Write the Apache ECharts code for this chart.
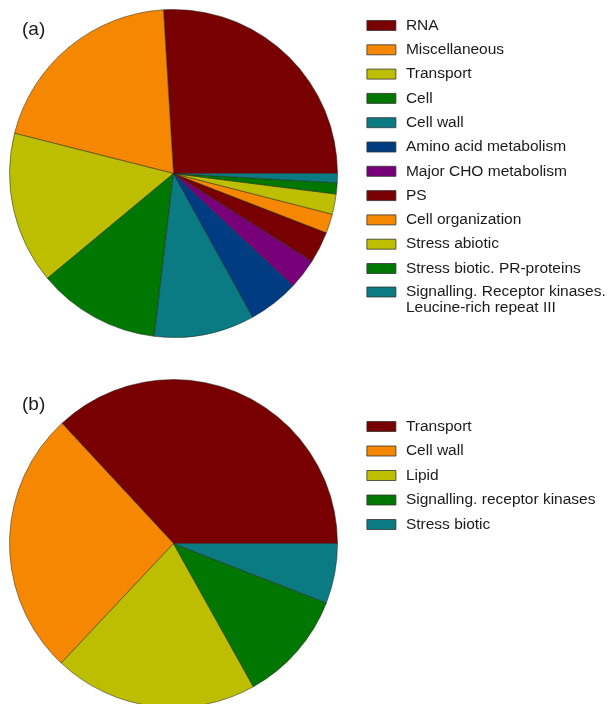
<!DOCTYPE html>
<html>
<head>
<meta charset="utf-8">
<script src="https://cdn.jsdelivr.net/npm/echarts@6/dist/echarts.min.js"></script>
<style>
html,body{margin:0;padding:0;background:#fff;}
#chart{width:611px;height:704px;}
</style>
</head>
<body>
<div id="chart"></div>
<script>
// Pie (a)
const namesA = ['RNA','Miscellaneous','Transport','Cell','Cell wall','Amino acid metabolism','Major CHO metabolism','PS','Cell organization','Stress abiotic','Stress biotic. PR-proteins','Signalling. Receptor kinases.\nLeucine-rich repeat III'];
const valuesA = [26.0, 20.1, 15.0, 12.1, 9.9, 5.0, 3.0, 3.1, 1.9, 2.0, 1.1, 0.9];
// Pie (b)
const namesB = ['Transport','Cell wall','Lipid','Signalling. receptor kinases','Stress biotic'];
const valuesB = [36.9, 26.1, 20.1, 11.0, 5.9];

const colorsA = ['#780000','#f58800','#bebe00','#007700','#0a7b82','#003c82','#780078','#780000','#f58800','#bebe00','#007700','#0a7b82'];
const colorsB = ['#780000','#f58800','#bebe00','#007700','#0a7b82'];

const chart = echarts.init(document.getElementById('chart'), null, {renderer:'canvas'});
const FONT = 'Liberation Sans, Arial, sans-serif';
const txt = {fontFamily: FONT, fontSize: 15.5, color: '#1a1a1a', lineHeight: 16,
  rich: {p: {width: 5, fontFamily: FONT, fontSize: 15.5, lineHeight: 16}}};

function legendItems(names, colors, from, to) {
  const out = [];
  for (let i = from; i < to; i++) {
    out.push({name: names[i], itemStyle: {color: colors[i], borderColor: '#333', borderWidth: 0.8}});
  }
  return out;
}
function fmt(name) {
  return name.split('\n').map(s => '{p| }' + s).join('\n');
}
function fmtLast(name) {
  return '{p| }\n' + fmt(name);
}

chart.setOption({
  animation: false,
  title: [
    {text: '(a)', left: 22, top: 20, padding: 0, textStyle: {fontFamily: FONT, fontSize: 19, fontWeight: 'normal', color: '#1a1a1a'}},
    {text: '(b)', left: 22, top: 395, padding: 0, textStyle: {fontFamily: FONT, fontSize: 19, fontWeight: 'normal', color: '#1a1a1a'}}
  ],
  legend: [
    {orient: 'vertical', left: 366.5, top: 17.5, padding: 0, itemWidth: 29, itemHeight: 10, itemGap: 8.3, icon: 'rect',
     textStyle: txt, formatter: fmt, selectedMode: false, data: legendItems(namesA, colorsA, 0, 11)},
    {orient: 'vertical', left: 366.5, top: 268, padding: 0, itemWidth: 29, itemHeight: 10, itemGap: 8, icon: 'rect',
     textStyle: txt, formatter: fmtLast, selectedMode: false, data: legendItems(namesA, colorsA, 11, 12)},
    {orient: 'vertical', left: 366.5, top: 418.5, padding: 0, itemWidth: 29, itemHeight: 10, itemGap: 8.5, icon: 'rect',
     textStyle: txt, formatter: fmt, selectedMode: false, data: legendItems(namesB, colorsB, 0, 5)}
  ],
  series: [
    {type: 'pie', center: [173.5, 173.5], radius: 164, startAngle: 0, clockwise: false,
     label: {show: false}, labelLine: {show: false}, emphasis: {disabled: true}, minAngle: 0, avoidLabelOverlap: false,
     itemStyle: {borderColor: '#222', borderWidth: 0.5},
     data: namesA.map((n, i) => ({name: n, value: valuesA[i], itemStyle: {color: colorsA[i]}}))},
    {type: 'pie', center: [173.5, 543.5], radius: 164, startAngle: 0, clockwise: false,
     label: {show: false}, labelLine: {show: false}, emphasis: {disabled: true}, minAngle: 0, avoidLabelOverlap: false,
     itemStyle: {borderColor: '#222', borderWidth: 0.5},
     data: namesB.map((n, i) => ({name: n, value: valuesB[i], itemStyle: {color: colorsB[i]}}))}
  ]
});
</script>
</body>
</html>
